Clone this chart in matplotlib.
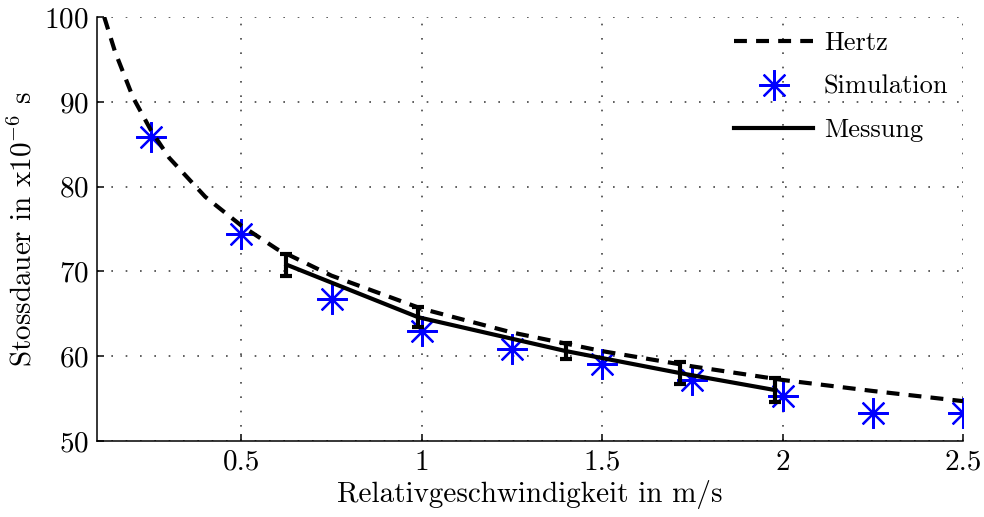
import matplotlib
matplotlib.use('Agg')
import matplotlib.pyplot as plt

plt.rcParams['font.family'] = 'serif'
plt.rcParams['font.serif'] = ['cmr10', 'DejaVu Serif']
plt.rcParams['mathtext.fontset'] = 'cm'
plt.rcParams['axes.formatter.use_mathtext'] = True

# Hertz theory
hertz_v = [0.12, 0.15, 0.2, 0.25, 0.3, 0.4, 0.5, 0.6, 0.75, 1.0, 1.25, 1.5, 1.75, 2.0, 2.25, 2.5]
hertz_t = [100.0, 95.9, 90.5, 86.6, 83.4, 78.8, 75.4, 72.6, 69.5, 65.6, 62.8, 60.6, 58.8, 57.2, 55.9, 54.7]

# Simulation points
sim_v = [0.25, 0.5, 0.75, 1.0, 1.25, 1.5, 1.75, 2.0, 2.25, 2.5]
sim_t = [85.8, 74.4, 66.7, 63.0, 60.9, 59.1, 57.2, 55.3, 53.3, 53.3]

# Measurement with error bars
mes_v = [0.625, 0.99, 1.40, 1.717, 1.98]
mes_t = [70.8, 64.6, 60.6, 58.0, 56.0]
mes_err = [1.3, 1.2, 0.9, 1.3, 1.4]

fig = plt.figure(figsize=(9.84, 5.17), dpi=100)
ax = fig.add_axes([0.0986, 0.147, 0.88, 0.82])

ax.plot(hertz_v, hertz_t, color='black', lw=3, dashes=(3.1, 2.2), label='Hertz', zorder=3)
ax.plot(sim_v, sim_t, linestyle='none', marker=(8, 2, 0), markersize=22,
        markeredgewidth=1.6, color='#0000ff', label='Simulation', zorder=2)
ax.plot(mes_v, mes_t, color='black', lw=3, label='Messung', zorder=4)
ax.errorbar(mes_v, mes_t, yerr=mes_err, fmt='none', ecolor='black', elinewidth=3,
            capsize=4, capthick=3, zorder=4)

ax.set_xlim(0.1, 2.5)
ax.set_ylim(50, 100)
ax.set_xticks([0.5, 1, 1.5, 2, 2.5])
ax.set_xticklabels(['0.5', '1', '1.5', '2', '2.5'])
ax.set_yticks([50, 60, 70, 80, 90, 100])

ax.spines['top'].set_visible(False)
ax.spines['right'].set_visible(False)
for s in ['left', 'bottom']:
    ax.spines[s].set_linewidth(1.1)
ax.tick_params(direction='in', length=5, width=1.1, labelsize=21, pad=6)
ax.grid(True, color='#444444', linestyle=(0, (1, 7.6)), linewidth=1.2)
ax.set_axisbelow(True)

ax.set_xlabel('Relativgeschwindigkeit in m/s', fontsize=21, labelpad=3)
ax.set_ylabel(r'Stossdauer in x10$^{-6}$ s', fontsize=21, labelpad=5)

ax.legend(loc='upper right', frameon=False, fontsize=19, handlelength=3.0,
          labelspacing=0.75, handletextpad=0.4, borderaxespad=0.15)

fig.savefig('out.png', dpi=100)
